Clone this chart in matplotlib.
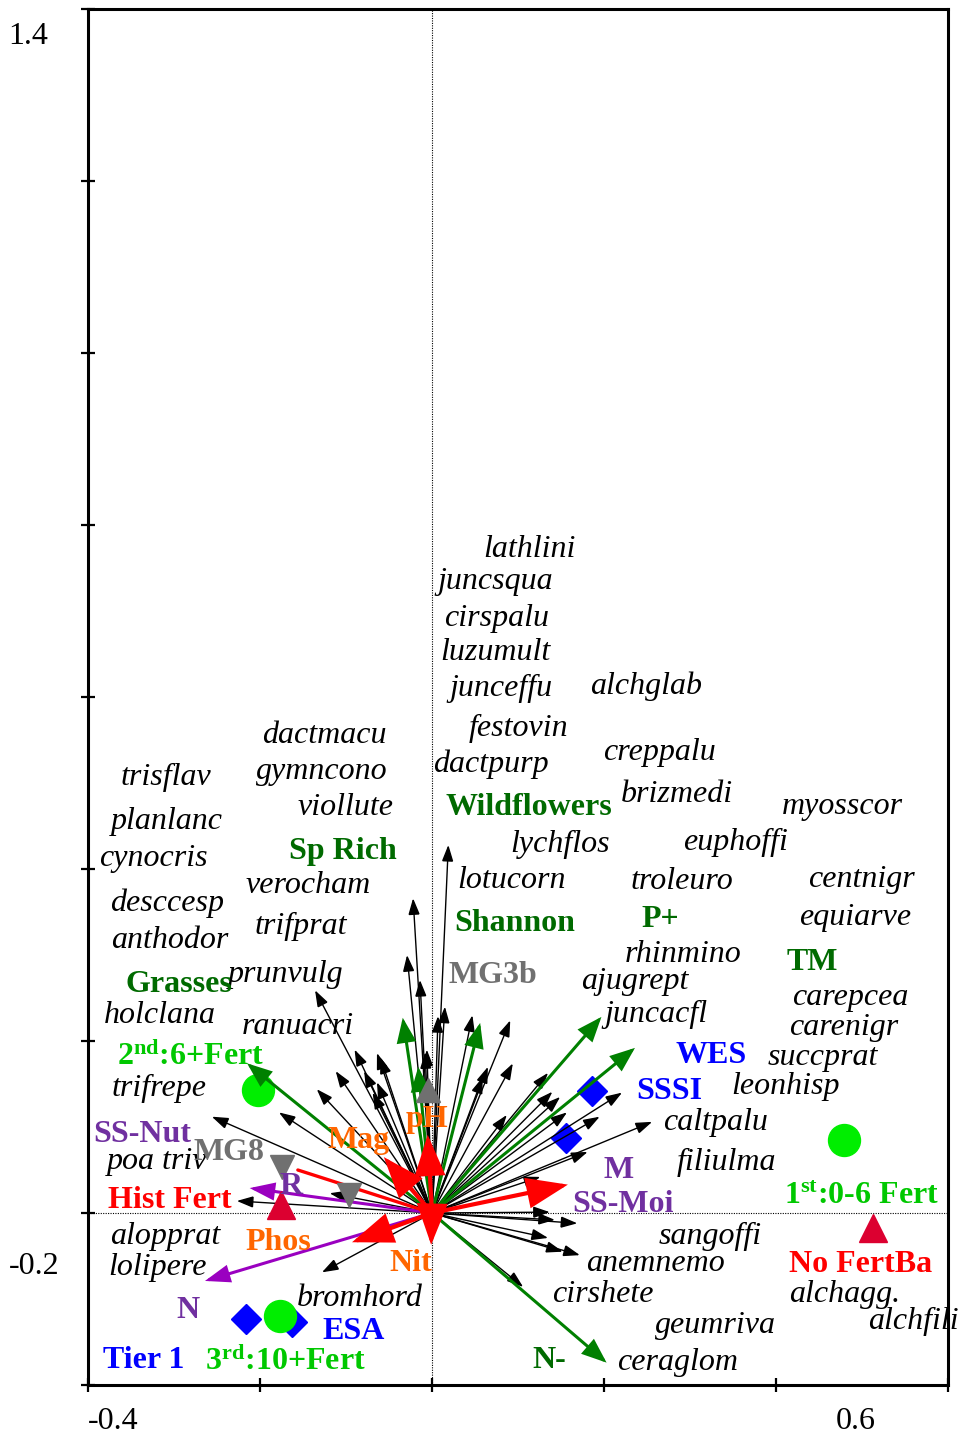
import matplotlib
matplotlib.use("Agg")
import matplotlib.pyplot as plt
from matplotlib.patches import FancyArrowPatch, ArrowStyle

plt.rcParams['font.family'] = ['Liberation Serif', 'DejaVu Serif']
plt.rcParams['mathtext.fontset'] = 'custom'
plt.rcParams['mathtext.rm'] = 'Liberation Serif'
plt.rcParams['mathtext.bf'] = 'Liberation Serif:bold'
plt.rcParams['mathtext.it'] = 'Liberation Serif:italic'

# ---------------- data ----------------
# species arrow tips (unlabelled arrows, black)
sp_arrow_x = [-0.136, -0.022, -0.029, -0.014, 0.007, 0.015, -0.006, -0.090, -0.064, -0.079,
              -0.112, -0.064, -0.069, -0.134, -0.178, -0.256, -0.119, -0.227, 0.019, 0.047,
              0.091, 0.094, 0.065, 0.059, 0.135, 0.087, 0.140, 0.149, 0.157, 0.221,
              0.195, 0.256, 0.181, 0.126, 0.137, 0.143, 0.169, 0.135, 0.152, 0.172,
              0.106, -0.128, -0.008, -0.060]
sp_arrow_y = [0.259, 0.366, 0.300, 0.271, 0.229, 0.240, 0.190, 0.190, 0.186, 0.165,
              0.165, 0.152, 0.140, 0.144, 0.117, 0.112, 0.023, 0.014, 0.428, 0.230,
              0.224, 0.174, 0.170, 0.158, 0.163, 0.114, 0.141, 0.135, 0.117, 0.140,
              0.112, 0.106, 0.071, 0.042, 0.001, -0.008, -0.012, -0.029, -0.045, -0.049,
              -0.086, -0.069, 0.187, 0.181]

# species labels (positions of the label text: left, baseline)
sp_names = ['lathlini', 'juncsqua', 'cirspalu', 'luzumult', 'junceffu', 'festovin', 'dactpurp',
            'dactmacu', 'gymncono', 'viollute', 'trisflav', 'planlanc', 'cynocris', 'alchglab',
            'creppalu', 'brizmedi', 'myosscor', 'lychflos', 'euphoffi', 'lotucorn', 'troleuro',
            'centnigr', 'desccesp', 'verocham', 'equiarve', 'anthodor', 'trifprat', 'rhinmino',
            'prunvulg', 'ajugrept', 'holclana', 'ranuacri', 'juncacfl', 'carepcea', 'carenigr',
            'succprat', 'trifrepe', 'leonhisp', 'caltpalu', 'poa triv', 'filiulma', 'sangoffi',
            'alopprat', 'anemnemo', 'lolipere', 'bromhord', 'cirshete', 'alchagg.', 'geumriva',
            'alchfili', 'ceraglom']
sp_lab_x = [0.060, 0.006, 0.014, 0.010, 0.020, 0.043, 0.001,
            -0.198, -0.205, -0.156, -0.362, -0.373, -0.387, 0.184,
            0.199, 0.219, 0.407, 0.091, 0.292, 0.029, 0.231,
            0.437, -0.374, -0.217, 0.427, -0.373, -0.206, 0.224,
            -0.237, 0.173, -0.381, -0.221, 0.200, 0.419, 0.415,
            0.390, -0.372, 0.348, 0.269, -0.378, 0.284, 0.264,
            -0.374, 0.179, -0.376, -0.157, 0.140, 0.415, 0.259,
            0.507, 0.215]
sp_lab_y = [0.763, 0.725, 0.683, 0.643, 0.601, 0.555, 0.513,
            0.547, 0.505, 0.463, 0.498, 0.447, 0.404, 0.603,
            0.527, 0.478, 0.464, 0.420, 0.422, 0.378, 0.377,
            0.379, 0.351, 0.372, 0.335, 0.308, 0.324, 0.292,
            0.269, 0.261, 0.221, 0.208, 0.222, 0.242, 0.207,
            0.172, 0.136, 0.138, 0.096, 0.051, 0.050, -0.036,
            -0.036, -0.067, -0.072, -0.108, -0.103, -0.103, -0.139,
            -0.135, -0.182]

# diversity / functional variables (dark green arrows)
green_arrow_x = [-0.215, -0.034, -0.016, 0.056, 0.197, 0.236, 0.203]
green_arrow_y = [0.174, 0.227, 0.170, 0.221, 0.228, 0.192, -0.174]
green_names = ['Wildflowers', 'Sp Rich', 'Shannon', 'P+', 'TM', 'Grasses', 'N-']
green_lab_x = [0.016, -0.166, 0.026, 0.243, 0.412, -0.356, 0.117]
green_lab_y = [0.463, 0.412, 0.328, 0.333, 0.283, 0.257, -0.180]

# soil variables (red arrows)
red_arrow_x = [0.158, -0.005, -0.056, -0.093, -0.001]
red_arrow_y = [0.033, 0.091, 0.065, -0.034, -0.037]
red_line_x = [-0.156]
red_line_y = [0.050]
soil_names = ['Mag', 'pH', 'Phos', 'Nit']
soil_lab_x = [-0.121, -0.031, -0.217, -0.049]
soil_lab_y = [0.076, 0.100, -0.043, -0.068]

# Ellenberg-type variables (purple arrows)
purple_arrow_x = [-0.264, -0.212]
purple_arrow_y = [-0.079, 0.029]
purple_names = ['SS-Nut', 'M', 'R', 'SS-Moi', 'N']
purple_lab_x = [-0.394, 0.199, -0.177, 0.163, -0.297]
purple_lab_y = [0.082, 0.041, 0.022, 0.001, -0.122]

# designation centroids (blue diamonds)
blue_x = [0.186, 0.156, -0.216, -0.163]
blue_y = [0.142, 0.087, -0.123, -0.127]
blue_names = ['WES', 'SSSI', 'ESA', 'Tier 1']
blue_lab_x = [0.283, 0.238, -0.127, -0.383]
blue_lab_y = [0.174, 0.132, -0.147, -0.180]

# fertiliser period centroids (bright green circles)
period_x = [-0.202, 0.479, -0.177]
period_y = [0.143, 0.085, -0.120]
period_names = ['2$^{\\mathbf{nd}}$:6+Fert', '1$^{\\mathbf{st}}$:0-6 Fert', '3$^{\\mathbf{rd}}$:10+Fert']
period_lab_x = [-0.366, 0.409, -0.264]
period_lab_y = [0.172, 0.010, -0.182]

# fertiliser history centroids (crimson triangles)
fert_x = [-0.176, 0.513]
fert_y = [0.009, -0.017]
fert_names = ['Hist Fert', 'No FertBa']
fert_lab_x = [-0.377, 0.415]
fert_lab_y = [0.006, -0.069]

# NVC community centroids (grey triangles)
nvc_down_x = [-0.174, -0.097]
nvc_down_y = [0.053, 0.021]
nvc_up_x = [-0.005]
nvc_up_y = [0.143]
nvc_names = ['MG3b', 'MG8']
nvc_lab_x = [0.019, -0.277]
nvc_lab_y = [0.267, 0.062]

# axis ticks
x_ticks = [-0.4, -0.2, 0.0, 0.2, 0.4, 0.6]
y_ticks = [-0.2, 0.0, 0.2, 0.4, 0.6, 0.8, 1.0, 1.2, 1.4]
tick_label_text = ['1.4', '-0.2', '-0.4', '0.6']

# ---------------- colours ----------------
DKGREEN_A = '#008000'
DKGREEN_T = '#006a00'
LIME_M = '#00ee00'
LIME_T = '#00c800'
PURPLE_T = '#7030a0'
PURPLE_A = '#9a00c0'
ORANGE = '#ff6600'
GREY = '#707070'
CRIMSON = '#dc0030'
RED = '#ff0000'
BLUE = '#0000ff'

FS = 23

fig = plt.figure(figsize=(9.63, 14.36), dpi=100)
ax = fig.add_axes([88/963, 51/1436, 860/963, 1376/1436])
ax.set_xlim(-0.4, 0.6)
ax.set_ylim(-0.2, 1.4)

for s in ax.spines.values():
    s.set_linewidth(2.2)
ax.set_xticks(x_ticks)
ax.set_yticks(y_ticks)
ax.set_xticklabels([])
ax.set_yticklabels([])
ax.tick_params(direction='inout', length=10, width=1.6, top=False, right=False)

ax.axhline(0, color='k', lw=0.8, ls=(0, (1, 1.2)), zorder=1)
ax.axvline(0, color='k', lw=0.8, ls=(0, (1, 1.2)), zorder=1)


def arrow(x, y, color, lw, hl, hw, z, style='-|>'):
    st = ArrowStyle(style, head_length=hl, head_width=hw) if style != '-' else ArrowStyle('-')
    p = FancyArrowPatch((0, 0), (x, y), arrowstyle=st, mutation_scale=1,
                        lw=lw, color=color, shrinkA=0, shrinkB=0, zorder=z,
                        joinstyle='miter')
    ax.add_patch(p)


# markers
ax.plot(blue_x, blue_y, 'D', color=BLUE, ms=15, mec=BLUE, zorder=2, ls='none')
ax.plot(period_x, period_y, 'o', color=LIME_M, ms=23, mec=LIME_M, zorder=2.5, ls='none')

# species arrows
for x, y in zip(sp_arrow_x, sp_arrow_y):
    arrow(x, y, 'black', 1.0, 10, 3.5, 3)

# green arrows
for x, y in zip(green_arrow_x, green_arrow_y):
    arrow(x, y, DKGREEN_A, 2.2, 14, 5.5, 4)

# purple arrows
for x, y in zip(purple_arrow_x, purple_arrow_y):
    arrow(x, y, PURPLE_A, 2.2, 14, 5.0, 4)

# red arrows
for x, y in zip(red_line_x, red_line_y):
    arrow(x, y, RED, 2.4, 0, 0, 5, style='-')
for x, y in zip(red_arrow_x, red_arrow_y):
    arrow(x, y, RED, 3.0, 24, 9, 5)

# fertiliser triangles and NVC triangles
ax.plot(fert_x, fert_y, '^', color=CRIMSON, ms=20, zorder=6, ls='none')
ax.plot(nvc_down_x, nvc_down_y, 'v', color=GREY, ms=17, zorder=6, ls='none')
ax.plot(nvc_up_x, nvc_up_y, '^', color=GREY, ms=17, zorder=6, ls='none')

# labels
for t, x, y in zip(sp_names, sp_lab_x, sp_lab_y):
    ax.text(x, y, t, fontsize=FS, style='italic', color='black', ha='left', va='baseline', zorder=10)


def bold_labels(names, xs, ys, color):
    for t, x, y in zip(names, xs, ys):
        ax.text(x, y, t, fontsize=FS, fontweight='bold', color=color, ha='left',
                va='baseline', zorder=10)


bold_labels(green_names, green_lab_x, green_lab_y, DKGREEN_T)
bold_labels(soil_names, soil_lab_x, soil_lab_y, ORANGE)
bold_labels(purple_names, purple_lab_x, purple_lab_y, PURPLE_T)
bold_labels(blue_names, blue_lab_x, blue_lab_y, BLUE)
bold_labels(period_names, period_lab_x, period_lab_y, LIME_T)
bold_labels(fert_names, fert_lab_x, fert_lab_y, RED)
bold_labels(nvc_names, nvc_lab_x, nvc_lab_y, GREY)

# tick labels (placed as in the original layout)
tick_pos = [(-0.469, 1.368), (-0.462, -0.062), (-0.371, -0.242), (0.493, -0.242)]
for t, (x, y) in zip(tick_label_text, tick_pos):
    ax.text(x, y, t, fontsize=FS, ha='center', va='center', clip_on=False)

fig.savefig('out.png', dpi=100)
